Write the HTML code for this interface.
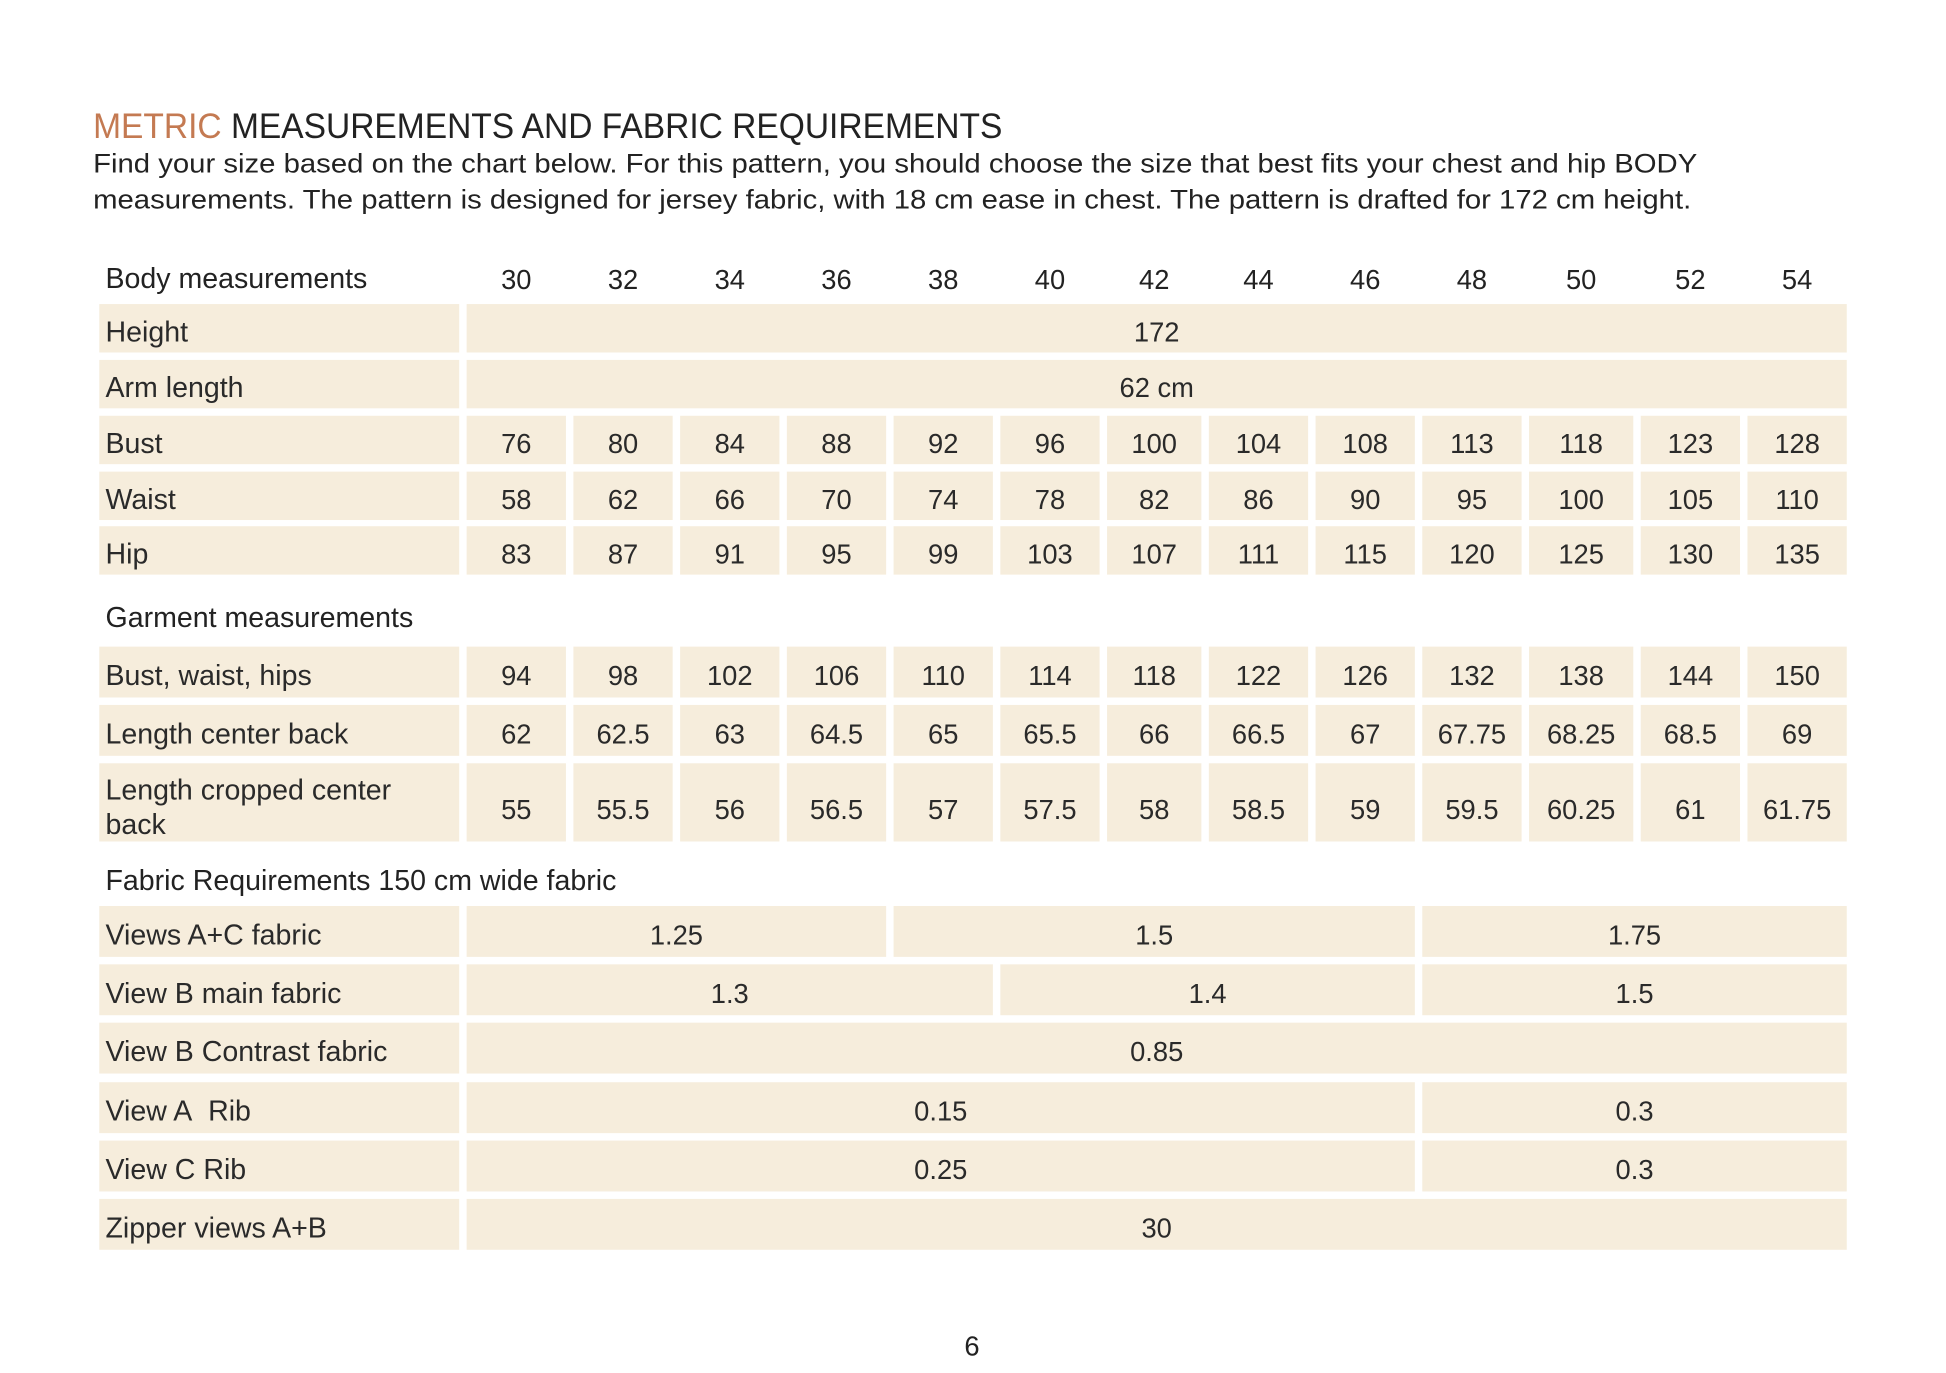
<!DOCTYPE html>
<html><head><meta charset="utf-8">
<style>
html,body{margin:0;padding:0;background:#fff;}
body{width:1946px;height:1372px;overflow:hidden;position:relative;}
#w{position:absolute;left:0;top:0;width:1568px;height:1106px;transform:scale(1.2411);transform-origin:0 0;font-family:"Liberation Sans",sans-serif;color:#222;}
.t{position:absolute;white-space:nowrap;}
.c{position:absolute;background:#f6eddc;display:flex;align-items:center;justify-content:center;font-size:22px;color:#2a2a2a;padding-top:6px;box-sizing:border-box;}
.l{justify-content:flex-start;padding-left:5px;font-size:23px;}
.h{position:absolute;font-size:22px;text-align:center;width:80px;}
</style></head><body><div id="w">
<div class="t" style="left:75px;top:86px;font-size:28px;transform:scaleX(0.965);transform-origin:0 0;"><span style="color:#c47a52">METRIC</span> MEASUREMENTS AND FABRIC REQUIREMENTS</div>
<div class="t" style="left:75px;top:120px;font-size:21.5px;transform:scaleX(1.098);transform-origin:0 0;">Find your size based on the chart below. For this pattern, you should choose the size that best fits your chest and hip BODY</div>
<div class="t" style="left:75px;top:149px;font-size:21.5px;transform:scaleX(1.098);transform-origin:0 0;">measurements. The pattern is designed for jersey fabric, with 18 cm ease in chest. The pattern is drafted for 172 cm height.</div>

<div class="t" style="left:85px;top:211px;font-size:23px;">Body measurements</div>
<div class="h" style="left:376px;top:213px">30</div><div class="h" style="left:462px;top:213px">32</div><div class="h" style="left:548px;top:213px">34</div><div class="h" style="left:634px;top:213px">36</div><div class="h" style="left:720px;top:213px">38</div><div class="h" style="left:806px;top:213px">40</div><div class="h" style="left:890px;top:213px">42</div><div class="h" style="left:974px;top:213px">44</div><div class="h" style="left:1060px;top:213px">46</div><div class="h" style="left:1146px;top:213px">48</div><div class="h" style="left:1234px;top:213px">50</div><div class="h" style="left:1322px;top:213px">52</div><div class="h" style="left:1408px;top:213px">54</div>

<div class="c l" style="left:80px;top:245px;width:290px;height:39px">Height</div>
<div class="c" style="left:376px;top:245px;width:1112px;height:39px">172</div>
<div class="c l" style="left:80px;top:290px;width:290px;height:39px">Arm length</div>
<div class="c" style="left:376px;top:290px;width:1112px;height:39px">62 cm</div>

<div class="c l" style="left:80px;top:335px;width:290px;height:39px">Bust</div>
<div class="c" style="left:376px;top:335px;width:80px;height:39px">76</div><div class="c" style="left:462px;top:335px;width:80px;height:39px">80</div><div class="c" style="left:548px;top:335px;width:80px;height:39px">84</div><div class="c" style="left:634px;top:335px;width:80px;height:39px">88</div><div class="c" style="left:720px;top:335px;width:80px;height:39px">92</div><div class="c" style="left:806px;top:335px;width:80px;height:39px">96</div><div class="c" style="left:892px;top:335px;width:76px;height:39px">100</div><div class="c" style="left:974px;top:335px;width:80px;height:39px">104</div><div class="c" style="left:1060px;top:335px;width:80px;height:39px">108</div><div class="c" style="left:1146px;top:335px;width:80px;height:39px">113</div><div class="c" style="left:1232px;top:335px;width:84px;height:39px">118</div><div class="c" style="left:1322px;top:335px;width:80px;height:39px">123</div><div class="c" style="left:1408px;top:335px;width:80px;height:39px">128</div>

<div class="c l" style="left:80px;top:380px;width:290px;height:39px">Waist</div>
<div class="c" style="left:376px;top:380px;width:80px;height:39px">58</div><div class="c" style="left:462px;top:380px;width:80px;height:39px">62</div><div class="c" style="left:548px;top:380px;width:80px;height:39px">66</div><div class="c" style="left:634px;top:380px;width:80px;height:39px">70</div><div class="c" style="left:720px;top:380px;width:80px;height:39px">74</div><div class="c" style="left:806px;top:380px;width:80px;height:39px">78</div><div class="c" style="left:892px;top:380px;width:76px;height:39px">82</div><div class="c" style="left:974px;top:380px;width:80px;height:39px">86</div><div class="c" style="left:1060px;top:380px;width:80px;height:39px">90</div><div class="c" style="left:1146px;top:380px;width:80px;height:39px">95</div><div class="c" style="left:1232px;top:380px;width:84px;height:39px">100</div><div class="c" style="left:1322px;top:380px;width:80px;height:39px">105</div><div class="c" style="left:1408px;top:380px;width:80px;height:39px">110</div>

<div class="c l" style="left:80px;top:424px;width:290px;height:39px">Hip</div>
<div class="c" style="left:376px;top:424px;width:80px;height:39px">83</div><div class="c" style="left:462px;top:424px;width:80px;height:39px">87</div><div class="c" style="left:548px;top:424px;width:80px;height:39px">91</div><div class="c" style="left:634px;top:424px;width:80px;height:39px">95</div><div class="c" style="left:720px;top:424px;width:80px;height:39px">99</div><div class="c" style="left:806px;top:424px;width:80px;height:39px">103</div><div class="c" style="left:892px;top:424px;width:76px;height:39px">107</div><div class="c" style="left:974px;top:424px;width:80px;height:39px">111</div><div class="c" style="left:1060px;top:424px;width:80px;height:39px">115</div><div class="c" style="left:1146px;top:424px;width:80px;height:39px">120</div><div class="c" style="left:1232px;top:424px;width:84px;height:39px">125</div><div class="c" style="left:1322px;top:424px;width:80px;height:39px">130</div><div class="c" style="left:1408px;top:424px;width:80px;height:39px">135</div>

<div class="t" style="left:85px;top:484px;font-size:23px;">Garment measurements</div>

<div class="c l" style="left:80px;top:521px;width:290px;height:41px">Bust, waist, hips</div>
<div class="c" style="left:376px;top:521px;width:80px;height:41px">94</div><div class="c" style="left:462px;top:521px;width:80px;height:41px">98</div><div class="c" style="left:548px;top:521px;width:80px;height:41px">102</div><div class="c" style="left:634px;top:521px;width:80px;height:41px">106</div><div class="c" style="left:720px;top:521px;width:80px;height:41px">110</div><div class="c" style="left:806px;top:521px;width:80px;height:41px">114</div><div class="c" style="left:892px;top:521px;width:76px;height:41px">118</div><div class="c" style="left:974px;top:521px;width:80px;height:41px">122</div><div class="c" style="left:1060px;top:521px;width:80px;height:41px">126</div><div class="c" style="left:1146px;top:521px;width:80px;height:41px">132</div><div class="c" style="left:1232px;top:521px;width:84px;height:41px">138</div><div class="c" style="left:1322px;top:521px;width:80px;height:41px">144</div><div class="c" style="left:1408px;top:521px;width:80px;height:41px">150</div>

<div class="c l" style="left:80px;top:568px;width:290px;height:41px">Length center back</div>
<div class="c" style="left:376px;top:568px;width:80px;height:41px">62</div><div class="c" style="left:462px;top:568px;width:80px;height:41px">62.5</div><div class="c" style="left:548px;top:568px;width:80px;height:41px">63</div><div class="c" style="left:634px;top:568px;width:80px;height:41px">64.5</div><div class="c" style="left:720px;top:568px;width:80px;height:41px">65</div><div class="c" style="left:806px;top:568px;width:80px;height:41px">65.5</div><div class="c" style="left:892px;top:568px;width:76px;height:41px">66</div><div class="c" style="left:974px;top:568px;width:80px;height:41px">66.5</div><div class="c" style="left:1060px;top:568px;width:80px;height:41px">67</div><div class="c" style="left:1146px;top:568px;width:80px;height:41px">67.75</div><div class="c" style="left:1232px;top:568px;width:84px;height:41px">68.25</div><div class="c" style="left:1322px;top:568px;width:80px;height:41px">68.5</div><div class="c" style="left:1408px;top:568px;width:80px;height:41px">69</div>

<div class="c l" style="left:80px;top:615px;width:290px;height:63px;line-height:28px">Length cropped center<br>back</div>
<div class="c" style="left:376px;top:615px;width:80px;height:63px;padding-top:12px">55</div><div class="c" style="left:462px;top:615px;width:80px;height:63px;padding-top:12px">55.5</div><div class="c" style="left:548px;top:615px;width:80px;height:63px;padding-top:12px">56</div><div class="c" style="left:634px;top:615px;width:80px;height:63px;padding-top:12px">56.5</div><div class="c" style="left:720px;top:615px;width:80px;height:63px;padding-top:12px">57</div><div class="c" style="left:806px;top:615px;width:80px;height:63px;padding-top:12px">57.5</div><div class="c" style="left:892px;top:615px;width:76px;height:63px;padding-top:12px">58</div><div class="c" style="left:974px;top:615px;width:80px;height:63px;padding-top:12px">58.5</div><div class="c" style="left:1060px;top:615px;width:80px;height:63px;padding-top:12px">59</div><div class="c" style="left:1146px;top:615px;width:80px;height:63px;padding-top:12px">59.5</div><div class="c" style="left:1232px;top:615px;width:84px;height:63px;padding-top:12px">60.25</div><div class="c" style="left:1322px;top:615px;width:80px;height:63px;padding-top:12px">61</div><div class="c" style="left:1408px;top:615px;width:80px;height:63px;padding-top:12px">61.75</div>

<div class="t" style="left:85px;top:696px;font-size:23px;">Fabric Requirements 150 cm wide fabric</div>

<div class="c l" style="left:80px;top:730px;width:290px;height:41px">Views A+C fabric</div>
<div class="c" style="left:376px;top:730px;width:338px;height:41px">1.25</div>
<div class="c" style="left:720px;top:730px;width:420px;height:41px">1.5</div>
<div class="c" style="left:1146px;top:730px;width:342px;height:41px">1.75</div>

<div class="c l" style="left:80px;top:777px;width:290px;height:41px">View B main fabric</div>
<div class="c" style="left:376px;top:777px;width:424px;height:41px">1.3</div>
<div class="c" style="left:806px;top:777px;width:334px;height:41px">1.4</div>
<div class="c" style="left:1146px;top:777px;width:342px;height:41px">1.5</div>

<div class="c l" style="left:80px;top:824px;width:290px;height:41px">View B Contrast fabric</div>
<div class="c" style="left:376px;top:824px;width:1112px;height:41px">0.85</div>

<div class="c l" style="left:80px;top:872px;width:290px;height:41px">View A&nbsp; Rib</div>
<div class="c" style="left:376px;top:872px;width:764px;height:41px">0.15</div>
<div class="c" style="left:1146px;top:872px;width:342px;height:41px">0.3</div>

<div class="c l" style="left:80px;top:919px;width:290px;height:41px">View C Rib</div>
<div class="c" style="left:376px;top:919px;width:764px;height:41px">0.25</div>
<div class="c" style="left:1146px;top:919px;width:342px;height:41px">0.3</div>

<div class="c l" style="left:80px;top:966px;width:290px;height:41px">Zipper views A+B</div>
<div class="c" style="left:376px;top:966px;width:1112px;height:41px">30</div>

<div class="t" style="left:777px;top:1072px;font-size:22px;">6</div>
</div></body></html>
